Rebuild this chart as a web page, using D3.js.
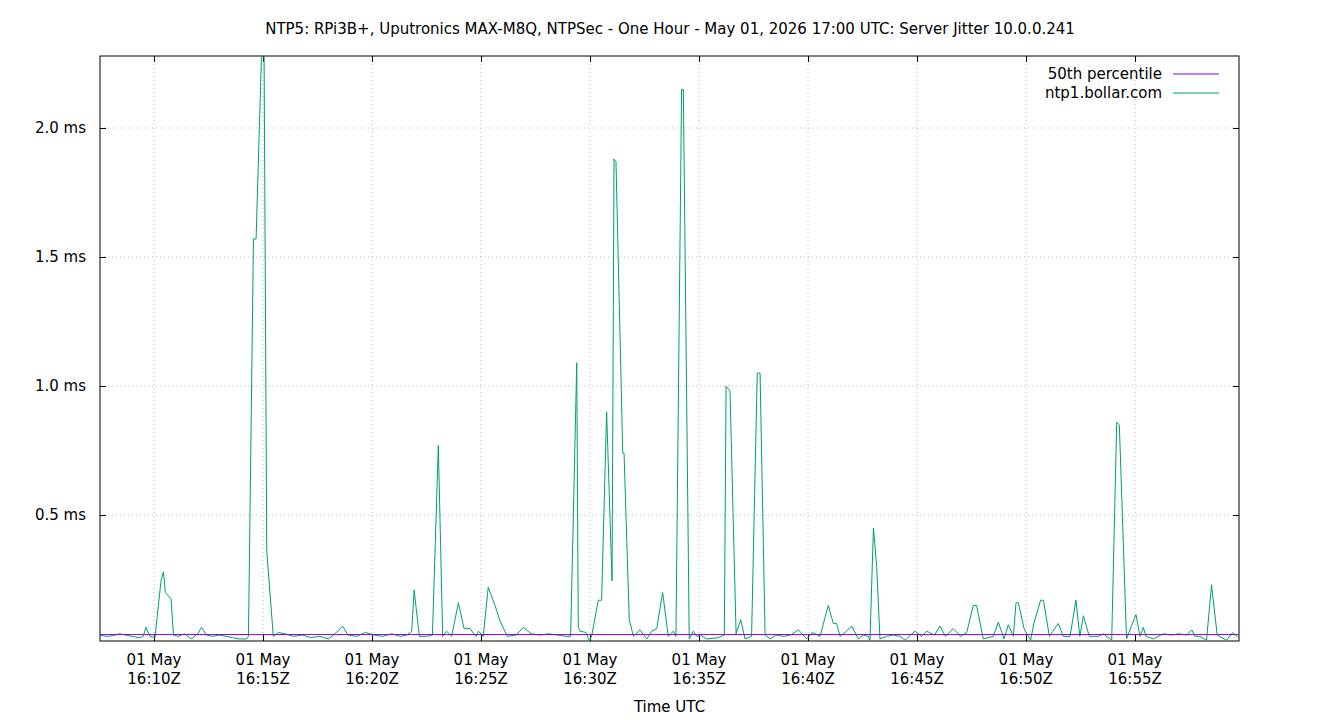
<!DOCTYPE html>
<html>
<head>
<meta charset="utf-8">
<script src="https://cdn.jsdelivr.net/npm/d3@7"></script>
<style>
  body { margin: 0; background: #fff; }
  text { font-family: "DejaVu Sans", sans-serif; }
</style>
</head>
<body>
<div id="chart"></div>
<script>
// minutes after 16:00 UTC, jitter in ms
const minutes = [
  7.52, 7.8, 8.1, 8.4, 8.7, 9.0, 9.3, 9.5, 9.63, 9.81, 10.04, 10.32, 10.43, 10.52, 10.78, 10.89,
  11.1, 11.4, 11.7, 12.0, 12.18, 12.4, 12.7, 13.0, 13.3, 13.6, 13.9, 14.25, 14.33, 14.56, 14.68,
  14.97, 15.04, 15.17, 15.47, 15.7, 16.0, 16.4, 16.8, 17.2, 17.6, 18.0, 18.3, 18.65, 18.9, 19.3,
  19.7, 20.1, 20.5, 20.9, 21.3, 21.6, 21.82, 21.93, 22.17, 22.5, 22.77, 23.04, 23.24, 23.42, 23.65,
  23.96, 24.22, 24.49, 24.77, 24.88, 25.10, 25.33, 25.64, 25.87, 26.2, 26.6, 26.94, 27.3, 27.7,
  28.1, 28.5, 28.9, 29.11, 29.39, 29.46, 29.54, 29.81, 29.97, 30.07, 30.38, 30.53, 30.76, 31.01,
  31.10, 31.19, 31.50, 31.56, 31.80, 31.99, 32.29, 32.60, 32.83, 33.06, 33.33, 33.59, 33.82, 33.94,
  34.20, 34.28, 34.55, 34.74, 34.89, 35.05, 35.35, 35.89, 36.16, 36.24, 36.42, 36.70, 36.91, 37.11,
  37.41, 37.67, 37.80, 38.03, 38.26, 38.53, 38.9, 39.2, 39.56, 39.94, 40.2, 40.55, 40.93, 41.16,
  41.31, 41.47, 41.7, 42.0, 42.31, 42.54, 42.77, 42.84, 43.0, 43.15, 43.3, 43.6, 43.91, 44.22,
  44.45, 44.7, 44.91, 45.2, 45.44, 45.8, 46.05, 46.3, 46.66, 47.0, 47.28, 47.58, 47.73, 48.04,
  48.50, 48.73, 48.99, 49.19, 49.42, 49.54, 49.65, 49.91, 50.21, 50.36, 50.67, 50.80, 51.07, 51.48,
  51.71, 52.02, 52.29, 52.47, 52.63, 52.90, 53.32, 53.54, 53.93, 54.16, 54.28, 54.61, 55.04, 55.23,
  55.38, 55.5, 55.84, 56.30, 56.68, 57.0, 57.37, 57.6, 57.75, 57.98, 58.28, 58.51, 58.77, 59.20,
  59.48, 59.74
];
const jitter = [
  0.035, 0.03, 0.032, 0.04, 0.035, 0.03, 0.025, 0.03, 0.065, 0.03, 0.025, 0.246, 0.28, 0.2, 0.175, 0.035,
  0.03, 0.04, 0.02, 0.04, 0.065, 0.035, 0.03, 0.035, 0.03, 0.025, 0.02, 0.02, 0.03, 1.57, 1.57,
  2.4, 2.4, 0.36, 0.03, 0.045, 0.04, 0.03, 0.035, 0.025, 0.03, 0.02, 0.04, 0.07, 0.035, 0.03,
  0.045, 0.035, 0.03, 0.04, 0.03, 0.035, 0.05, 0.21, 0.03, 0.03, 0.035, 0.77, 0.03, 0.05, 0.03,
  0.16, 0.06, 0.06, 0.03, 0.05, 0.03, 0.22, 0.15, 0.09, 0.03, 0.035, 0.065, 0.04, 0.035,
  0.04, 0.035, 0.03, 0.03, 1.09, 0.065, 0.05, 0.045, 0.012, 0.03, 0.17, 0.17, 0.90, 0.245,
  1.88, 1.87, 0.74, 0.74, 0.095, 0.03, 0.055, 0.02, 0.05, 0.06, 0.2, 0.03, 0.05, 0.03,
  2.15, 2.15, 0.02, 0.05, 0.03, 0.035, 0.02, 0.025, 0.035, 1.0, 0.98, 0.04, 0.095, 0.02,
  0.03, 1.05, 1.05, 0.035, 0.02, 0.035, 0.03, 0.035, 0.055, 0.02, 0.045, 0.03, 0.15, 0.08,
  0.08, 0.03, 0.045, 0.07, 0.02, 0.035, 0.03, 0.01, 0.45, 0.3, 0.02, 0.03, 0.035, 0.03,
  0.015, 0.035, 0.05, 0.03, 0.05, 0.035, 0.07, 0.03, 0.06, 0.03, 0.045, 0.15, 0.15, 0.02,
  0.03, 0.085, 0.02, 0.075, 0.03, 0.16, 0.16, 0.06, 0.015, 0.08, 0.17, 0.17, 0.03, 0.08,
  0.03, 0.03, 0.17, 0.03, 0.11, 0.03, 0.03, 0.04, 0.015, 0.86, 0.85, 0.02, 0.115, 0.03,
  0.065, 0.03, 0.02, 0.04, 0.035, 0.04, 0.035, 0.055, 0.03, 0.03, 0.015, 0.23, 0.035, 0.015,
  0.045, 0.025
];
const median = 0.037;
const xTicks = [10, 15, 20, 25, 30, 35, 40, 45, 50, 55];
const yTicks = [0.5, 1.0, 1.5, 2.0];
const seriesNames = ["50th percentile", "ntp1.bollar.com"];
const seriesColors = ["#9400d3", "#009e73"];

const width = 1340, height = 720;
const margin = { top: 56, right: 101, bottom: 79, left: 100 };
const innerW = width - margin.left - margin.right;
const innerH = height - margin.top - margin.bottom;

const svg = d3.select("#chart").append("svg")
    .attr("width", width).attr("height", height);

svg.append("text").attr("x", width / 2).attr("y", 34)
    .attr("text-anchor", "middle").style("font-size", "15px")
    .text("NTP5: RPi3B+, Uputronics MAX-M8Q, NTPSec - One Hour - May 01, 2026 17:00 UTC: Server Jitter 10.0.0.241");

const g = svg.append("g").attr("transform", `translate(${margin.left},${margin.top})`);

const x = d3.scaleLinear().domain([7.52, 59.77]).range([0, innerW]);
const y = d3.scaleLinear().domain([0.012, 2.279]).range([innerH, 0]);

g.append("defs").append("clipPath").attr("id", "clip")
    .append("rect").attr("width", innerW).attr("height", innerH);

// Grid
g.selectAll("line.gx").data(xTicks).join("line").attr("class", "gx")
    .attr("x1", d => x(d)).attr("x2", d => x(d)).attr("y1", 0).attr("y2", innerH)
    .style("stroke", "#bbb").style("stroke-dasharray", "1,3");
g.selectAll("line.gy").data(yTicks).join("line").attr("class", "gy")
    .attr("x1", 0).attr("x2", innerW).attr("y1", d => y(d)).attr("y2", d => y(d))
    .style("stroke", "#bbb").style("stroke-dasharray", "1,3");

// Axes
const fmtTime = m => `16:${String(m).padStart(2, "0")}Z`;
const xAxis = g.append("g").attr("transform", `translate(0,${innerH})`)
    .call(d3.axisBottom(x).tickValues(xTicks).tickSize(-6).tickFormat(""));
xAxis.select(".domain").remove();
g.append("g").call(d3.axisTop(x).tickValues(xTicks).tickSize(-6).tickFormat(""))
    .select(".domain").remove();
const lbl = g.selectAll("text.xl").data(xTicks).join("text").attr("class", "xl")
    .attr("x", d => x(d)).attr("text-anchor", "middle").style("font-size", "15px");
lbl.append("tspan").attr("x", d => x(d)).attr("y", innerH + 24).text("01 May");
lbl.append("tspan").attr("x", d => x(d)).attr("y", innerH + 43).text(d => fmtTime(d));

const yAxis = g.append("g")
    .call(d3.axisLeft(y).tickValues(yTicks).tickSize(-6).tickPadding(10).tickFormat(d => d.toFixed(1) + " ms"));
yAxis.select(".domain").remove();
yAxis.selectAll("text").style("font-size", "15px").style("font-family", "DejaVu Sans").attr("dx", "-4");
g.append("g").attr("transform", `translate(${innerW},0)`)
    .call(d3.axisRight(y).tickValues(yTicks).tickSize(-6).tickFormat(""))
    .select(".domain").remove();

g.append("rect").attr("width", innerW).attr("height", innerH)
    .attr("fill", "none").attr("stroke", "#000");

g.append("text").attr("x", innerW / 2).attr("y", innerH + 71)
    .attr("text-anchor", "middle").style("font-size", "15px").text("Time UTC");

// Series
const data = minutes.map((m, i) => ({ m, v: jitter[i] }));
g.append("path").datum(data).attr("clip-path", "url(#clip)")
    .attr("fill", "none").attr("stroke", seriesColors[1]).attr("stroke-width", 1)
    .attr("d", d3.line().x(d => x(d.m)).y(d => y(d.v)));
g.append("line").attr("x1", 0).attr("x2", innerW)
    .attr("y1", y(median)).attr("y2", y(median))
    .attr("stroke", seriesColors[0]).attr("stroke-width", 1);

// Legend
seriesNames.forEach((name, i) => {
    const ly = 18 + i * 19;
    g.append("text").attr("x", 1062).attr("y", ly + 5).attr("text-anchor", "end")
        .style("font-size", "15px").text(name);
    g.append("line").attr("x1", 1073).attr("x2", 1119).attr("y1", ly).attr("y2", ly)
        .attr("stroke", seriesColors[i]);
});
</script>
</body>
</html>
